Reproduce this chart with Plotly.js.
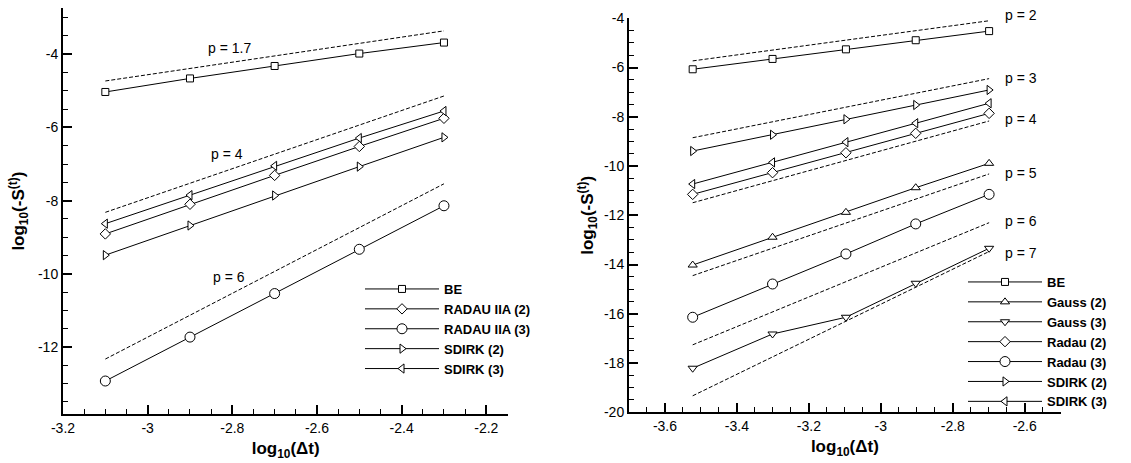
<!DOCTYPE html>
<html><head><meta charset="utf-8">
<script src="https://cdn.plot.ly/plotly-3.0.1.min.js"></script>
<style>html,body{margin:0;padding:0;background:#fff}#plot{width:1131px;height:463px}</style>
</head><body><div id="plot"></div>
<script>
// ---------- Left panel data ----------
const leftX = [-3.1, -2.9, -2.7, -2.5, -2.3];
const leftBE = [-5.03, -4.66, -4.32, -3.98, -3.68];
const leftRadau2 = [-8.91, -8.10, -7.31, -6.52, -5.75];
const leftRadau3 = [-12.93, -11.73, -10.54, -9.33, -8.14];
const leftSdirk2 = [-9.49, -8.68, -7.86, -7.07, -6.27];
const leftSdirk3 = [-8.63, -7.85, -7.05, -6.29, -5.55];
const leftRefX = [-3.1, -2.3];
const leftRefP17 = [-4.73, -3.36];
const leftRefP4 = [-8.32, -5.14];
const leftRefP6 = [-12.33, -7.54];
const leftRefLabels = ['p = 1.7', 'p = 4', 'p = 6'];
const leftRefLabelX = [-2.806, -2.813, -2.807];
const leftRefLabelY = [-3.82, -6.72, -10.08];
const leftXTicks = [-3.2, -3, -2.8, -2.6, -2.4, -2.2];
const leftXTickText = ['-3.2', '-3', '-2.8', '-2.6', '-2.4', '-2.2'];
const leftYTicks = [-12, -10, -8, -6, -4];
const leftYTickText = ['-12', '-10', '-8', '-6', '-4'];

// ---------- Right panel data ----------
const rightX = [-3.523, -3.301, -3.097, -2.903, -2.699];
const rightBE = [-6.07, -5.65, -5.26, -4.89, -4.52];
const rightGauss2 = [-14.02, -12.89, -11.88, -10.88, -9.89];
const rightGauss3 = [-18.21, -16.82, -16.14, -14.76, -13.34];
const rightRadau2 = [-11.15, -10.27, -9.46, -8.67, -7.86];
const rightRadau3 = [-16.14, -14.79, -13.57, -12.35, -11.15];
const rightSdirk2 = [-9.39, -8.73, -8.10, -7.52, -6.91];
const rightSdirk3 = [-10.73, -9.85, -9.03, -8.26, -7.45];
const rightRefX = [-3.523, -2.699];
const rightRefP2 = [-5.73, -4.10];
const rightRefP3 = [-8.85, -6.45];
const rightRefP4 = [-11.49, -8.17];
const rightRefP5 = [-14.45, -10.32];
const rightRefP6 = [-17.26, -12.30];
const rightRefP7 = [-19.33, -13.47];
const rightRefLabels = ['p = 2', 'p = 3', 'p = 4', 'p = 5', 'p = 6', 'p = 7'];
const rightRefLabelY = [-4.0, -6.44, -8.09, -10.29, -12.22, -13.54];
const rightRefLabelShift = [3, 0, 0, 0, 0, 0];
const rightRefLabelX = -2.66;
const rightXTicks = [-3.6, -3.4, -3.2, -3, -2.8, -2.6];
const rightXTickText = ['-3.6', '-3.4', '-3.2', '-3', '-2.8', '-2.6'];
const rightYTicks = [-20, -18, -16, -14, -12, -10, -8, -6, -4];
const rightYTickText = ['-20', '-18', '-16', '-14', '-12', '-10', '-8', '-6', '-4'];

// ---------- Styling ----------
const FONT = 'Liberation Sans, Arial, Helvetica, sans-serif';
function series(x, y, name, symbol, size, xa, ya, legend) {
  return {
    x: x, y: y, name: name, type: 'scatter', mode: 'lines+markers',
    xaxis: xa, yaxis: ya, legend: legend, cliponaxis: false,
    line: {color: '#000', width: 1},
    marker: {symbol: symbol, size: size, color: '#fff', line: {color: '#000', width: 1}}
  };
}
function ref(x, y, xa, ya) {
  return {
    x: x, y: y, type: 'scatter', mode: 'lines', showlegend: false, hoverinfo: 'skip',
    xaxis: xa, yaxis: ya, line: {color: '#000', width: 1, dash: '4px,2px'}
  };
}

const traces = [
  ref(leftRefX, leftRefP17, 'x', 'y'),
  ref(leftRefX, leftRefP4, 'x', 'y'),
  ref(leftRefX, leftRefP6, 'x', 'y'),
  series(leftX, leftBE, 'BE', 'square', 7, 'x', 'y', 'legend'),
  series(leftX, leftRadau2, 'RADAU IIA (2)', 'diamond', 8, 'x', 'y', 'legend'),
  series(leftX, leftRadau3, 'RADAU IIA (3)', 'circle', 10, 'x', 'y', 'legend'),
  series(leftX, leftSdirk2, 'SDIRK (2)', 'triangle-right', 8, 'x', 'y', 'legend'),
  series(leftX, leftSdirk3, 'SDIRK (3)', 'triangle-left', 8, 'x', 'y', 'legend'),

  ref(rightRefX, rightRefP2, 'x2', 'y2'),
  ref(rightRefX, rightRefP3, 'x2', 'y2'),
  ref(rightRefX, rightRefP4, 'x2', 'y2'),
  ref(rightRefX, rightRefP5, 'x2', 'y2'),
  ref(rightRefX, rightRefP6, 'x2', 'y2'),
  ref(rightRefX, rightRefP7, 'x2', 'y2'),
  series(rightX, rightBE, 'BE', 'square', 7, 'x2', 'y2', 'legend2'),
  series(rightX, rightGauss2, 'Gauss (2)', 'triangle-up', 8, 'x2', 'y2', 'legend2'),
  series(rightX, rightGauss3, 'Gauss (3)', 'triangle-down', 8, 'x2', 'y2', 'legend2'),
  series(rightX, rightRadau2, 'Radau (2)', 'diamond', 8, 'x2', 'y2', 'legend2'),
  series(rightX, rightRadau3, 'Radau (3)', 'circle', 10, 'x2', 'y2', 'legend2'),
  series(rightX, rightSdirk2, 'SDIRK (2)', 'triangle-right', 8, 'x2', 'y2', 'legend2'),
  series(rightX, rightSdirk3, 'SDIRK (3)', 'triangle-left', 8, 'x2', 'y2', 'legend2')
];

function axis(extra) {
  return Object.assign({
    showline: true, linewidth: 2, linecolor: '#000', mirror: false,
    showgrid: false, zeroline: false, automargin: false,
    ticks: 'inside', ticklen: 9, tickwidth: 2, tickcolor: '#000',
    tickmode: 'array',
    tickfont: {family: FONT, size: 14, color: '#000'}
  }, extra);
}
const xTitle = {text: 'log<sub>10</sub>(Δt)', font: {family: FONT, size: 17, color: '#000', weight: 'bold'}, standoff: 7};
function yTitle(standoff) {
  return {text: 'log<sub>10</sub>(-S<sup>(t)</sup>)', font: {family: FONT, size: 17, color: '#000', weight: 'bold'}, standoff: standoff};
}
const W = 1131, H = 463;

const annotations = [];
leftRefLabels.forEach((t, i) => annotations.push({
  xref: 'x', yref: 'y', x: leftRefLabelX[i], y: leftRefLabelY[i], text: t, showarrow: false,
  xanchor: 'center', yanchor: 'middle', font: {family: FONT, size: 14, color: '#000'}
}));
rightRefLabels.forEach((t, i) => annotations.push({
  xref: 'x2', yref: 'y2', x: rightRefLabelX, y: rightRefLabelY[i], yshift: rightRefLabelShift[i],
  text: t, showarrow: false,
  xanchor: 'left', yanchor: 'middle', font: {family: FONT, size: 14, color: '#000'}
}));

const legendBase = {
  bgcolor: 'rgba(0,0,0,0)', borderwidth: 0, itemwidth: 74, tracegroupgap: 0,
  font: {family: FONT, size: 13, color: '#000', weight: 'bold'},
  xanchor: 'left', yanchor: 'top', traceorder: 'normal', itemclick: false
};

const layout = {
  width: W, height: H, paper_bgcolor: '#fff', plot_bgcolor: '#fff',
  margin: {l: 0, r: 0, t: 0, b: 0, pad: 0},
  showlegend: true,
  xaxis: axis({domain: [63 / W, 508.3 / W], range: [-3.2, -2.148], anchor: 'y',
    tickvals: leftXTicks, ticktext: leftXTickText, title: xTitle,
    minor: {ticks: 'inside', ticklen: 5, tickwidth: 1, tickcolor: '#000', tickmode: 'linear', tick0: -3.2, dtick: 0.05, showgrid: false}}),
  yaxis: axis({domain: [(H - 414.3) / H, (H - 8) / H], range: [-13.84, -2.735], anchor: 'x',
    tickvals: leftYTicks, ticktext: leftYTickText, title: yTitle(9),
    minor: {ticks: 'inside', ticklen: 5, tickwidth: 1, tickcolor: '#000', tickmode: 'linear', tick0: -12, dtick: 0.5, showgrid: false}}),
  xaxis2: axis({domain: [629 / W, 1060.7 / W], range: [-3.7, -2.5], anchor: 'y2',
    tickvals: rightXTicks, ticktext: rightXTickText, title: xTitle,
    minor: {ticks: 'inside', ticklen: 5, tickwidth: 1, tickcolor: '#000', tickmode: 'linear', tick0: -3.6, dtick: 0.05, showgrid: false}}),
  yaxis2: axis({domain: [(H - 412.3) / H, (H - 18.3) / H], range: [-20, -4], anchor: 'x2',
    tickvals: rightYTicks, ticktext: rightYTickText, title: yTitle(6),
    minor: {ticks: 'inside', ticklen: 5, tickwidth: 1, tickcolor: '#000', tickmode: 'linear', tick0: -20, dtick: 0.5, showgrid: false}}),
  legend: Object.assign({x: 360 / W, y: (H - 274) / H}, legendBase),
  legend2: Object.assign({x: 963 / W, y: (H - 267) / H}, legendBase),
  annotations: annotations
};

Plotly.newPlot('plot', traces, layout, {displayModeBar: false, staticPlot: true});
</script>
</body></html>
